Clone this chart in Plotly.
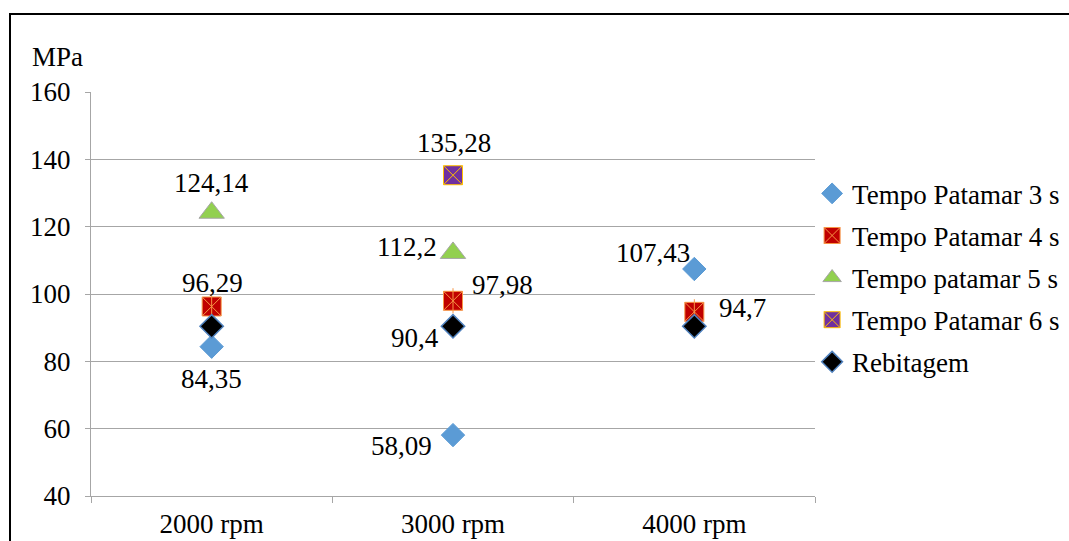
import plotly.graph_objects as go

categories = ["2000 rpm", "3000 rpm", "4000 rpm"]

tempo_3s = [84.35, 58.09, 107.43]
tempo_4s = [96.29, 97.98, 94.7]
tempo_5s = [124.14, 112.2, None]
tempo_6s = [None, 135.28, None]
rebitagem = [90.4, 90.4, 90.4]
rebitagem_labelled = [False, True, False]

y_ticks = [40, 60, 80, 100, 120, 140, 160]

FONT = "Liberation Serif, Times New Roman, serif"
FS = 27


def fmt(v):
    s = f"{v:.2f}".rstrip("0").rstrip(".")
    return s.replace(".", ",")


# label placement per point: (xanchor, xshift, yshift)
label_style = {
    "Tempo Patamar 3 s": [("center", 0, -32), ("right", -19, -11), ("right", -2, 16)],
    "Tempo Patamar 4 s": [("center", 1, 23), ("left", 17, 16), ("left", 23, 4)],
    "Tempo patamar 5 s": [("center", 0, 30), ("right", -14, 6), None],
    "Tempo Patamar 6 s": [None, ("center", 1, 32), None],
    "Rebitagem": [None, ("right", -12, -12), None],
}

fig = go.Figure()

fig.add_trace(go.Scatter(
    x=categories, y=tempo_3s, name="Tempo Patamar 3 s", mode="markers",
    legendgroup="g3",
    marker=dict(symbol="diamond", size=18, color="#5B9BD5",
                line=dict(color="#5B9BD5", width=1)),
))

fig.add_trace(go.Scatter(
    x=categories, y=tempo_4s, name="Tempo Patamar 4 s", mode="markers",
    legendgroup="g4",
    marker=dict(symbol="square-x", size=19, color="#C00000",
                line=dict(color="#F79646", width=1)),
))
# vertical stroke completing the asterisk on the red squares
fig.add_trace(go.Scatter(
    x=categories, y=tempo_4s, mode="markers", legendgroup="g4",
    showlegend=False, hoverinfo="skip",
    marker=dict(symbol="line-ns", size=18, color="#F79646",
                line=dict(color="#F79646", width=1)),
))

fig.add_trace(go.Scatter(
    x=categories, y=tempo_5s, name="Tempo patamar 5 s", mode="markers",
    legendgroup="g5",
    marker=dict(symbol="triangle-up", size=22, color="#92D050",
                line=dict(color="#A6A6A6", width=1)),
))

fig.add_trace(go.Scatter(
    x=categories, y=tempo_6s, name="Tempo Patamar 6 s", mode="markers",
    legendgroup="g6",
    marker=dict(symbol="square-x", size=19, color="#7030A0",
                line=dict(color="#FFC000", width=1)),
))

fig.add_trace(go.Scatter(
    x=categories, y=rebitagem, name="Rebitagem", mode="markers",
    legendgroup="g7",
    marker=dict(symbol="diamond", size=18, color="black",
                line=dict(color="#4F81BD", width=1.5)),
))

# data labels, positioned on the data coordinates of each point
series_values = {
    "Tempo Patamar 3 s": tempo_3s,
    "Tempo Patamar 4 s": tempo_4s,
    "Tempo patamar 5 s": tempo_5s,
    "Tempo Patamar 6 s": tempo_6s,
    "Rebitagem": [v if show else None for v, show in zip(rebitagem, rebitagem_labelled)],
}
annotations = []
for name, vals in series_values.items():
    for cat, v, st in zip(categories, vals, label_style[name]):
        if v is None or st is None:
            continue
        xa, xs, ys = st
        annotations.append(dict(
            x=cat, y=v, xref="x", yref="y", text=fmt(v), showarrow=False,
            xanchor=xa, yanchor="middle", xshift=xs, yshift=ys,
            font=dict(family=FONT, size=FS, color="black"),
        ))

annotations.append(dict(
    text="MPa", xref="paper", yref="paper",
    x=(30 - 91) / 724, y=(496 - 57) / 404,
    xanchor="left", yanchor="middle", showarrow=False,
    font=dict(family=FONT, size=FS, color="black"),
))

fig.update_layout(
    width=1069, height=541,
    margin=dict(l=91, r=254, t=92, b=45, autoexpand=False),
    paper_bgcolor="white", plot_bgcolor="white",
    font=dict(family=FONT, size=FS, color="black"),
    showlegend=True,
    legend=dict(
        x=0.996, xanchor="left", y=0.54, yanchor="middle",
        traceorder="grouped", tracegroupgap=4,
        font=dict(family=FONT, size=FS, color="black"),
        bgcolor="rgba(0,0,0,0)",
    ),
    xaxis=dict(
        type="category", range=[-0.5, 2.5], automargin=False,
        showgrid=False, showline=True, linecolor="#A6A6A6", linewidth=1,
        ticks="outside", tickson="boundaries", ticklen=6, tickcolor="#A6A6A6",
        ticklabelstandoff=4,
        tickfont=dict(family=FONT, size=FS, color="black"),
    ),
    yaxis=dict(
        range=[40, 160], tickvals=y_ticks, automargin=False,
        showgrid=True, gridcolor="#A6A6A6", gridwidth=1,
        showline=True, linecolor="#A6A6A6", linewidth=1,
        ticks="outside", ticklen=5, tickcolor="#A6A6A6",
        ticklabelstandoff=9, zeroline=False,
        tickfont=dict(family=FONT, size=FS, color="black"),
    ),
    annotations=annotations,
    shapes=[dict(
        type="rect", xref="paper", yref="paper",
        x0=(10 - 91) / 724, x1=1.6, y0=-0.5, y1=(496 - 14) / 404,
        line=dict(color="black", width=2), fillcolor="rgba(0,0,0,0)",
        layer="above",
    )],
)

fig.write_html("out.html")
